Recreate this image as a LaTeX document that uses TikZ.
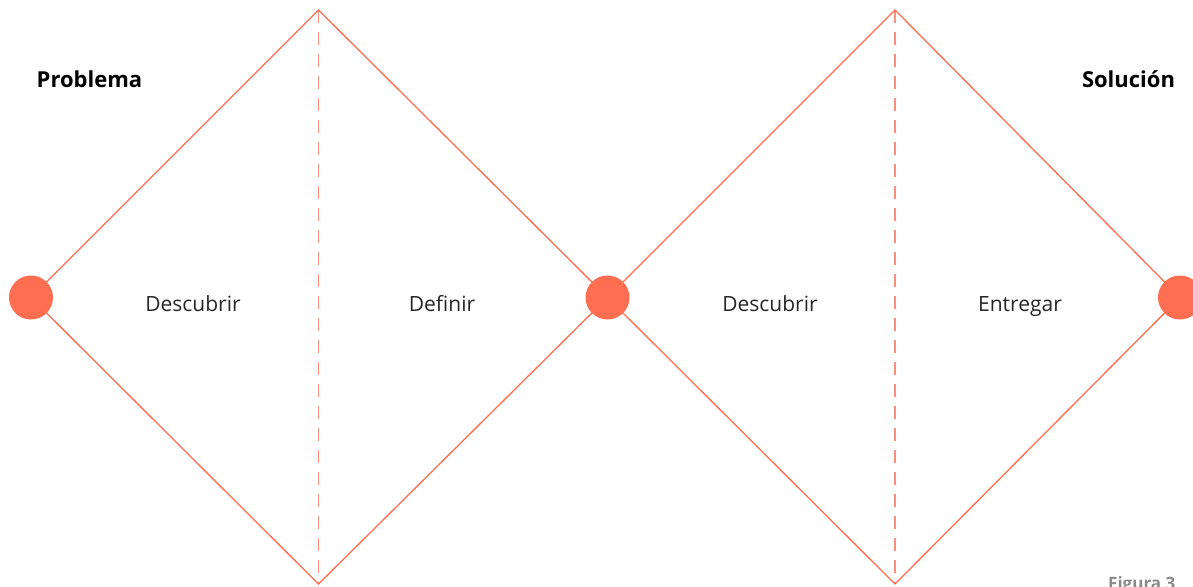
\documentclass[tikz,border=0pt]{standalone}
\usepackage{fontspec}
\setmainfont{Open Sans}
\definecolor{coral}{HTML}{FF6E50}
\definecolor{dashc}{HTML}{FA8F7D}
\definecolor{figgray}{HTML}{8A8A8A}
\begin{document}
\begin{tikzpicture}[x=1pt,y=-1pt,
  edge/.style={draw=coral,line width=1.3pt},
  mid/.style={draw=dashc,line width=1.5pt,dash pattern=on 13pt off 9pt},
  dot/.style={circle,fill=coral,minimum size=44pt,inner sep=0pt},
  lbl/.style={font=\fontsize{21}{25}\selectfont,text=black!85,anchor=base},
  ttl/.style={font=\fontsize{22}{26}\selectfont\bfseries,text=black,anchor=base}]
\path[use as bounding box] (0,0) rectangle (1193,586);
\coordinate (t1) at (318.5,10);
\coordinate (b1) at (318.5,584);
\coordinate (t2) at (895,10);
\coordinate (b2) at (895,584);
\coordinate (c1) at (31,297.5);
\coordinate (c2) at (607.5,297.5);
\coordinate (c3) at (1180,297.5);
\draw[mid] (t1) -- (b1);
\draw[mid] (t2) -- (b2);
\draw[edge] (c1) -- (t1) -- (c2) -- (b1) -- cycle;
\draw[edge] (c2) -- (t2) -- (c3) -- (b2) -- cycle;
\node[dot] (d1) at (c1) {};
\node[dot] (d2) at (c2) {};
\node[dot] (d3) at (c3) {};
\node[lbl] (l1) at (193,311) {Descubrir};
\node[lbl] (l2) at (442,311) {Definir};
\node[lbl] (l3) at (770,311) {Descubrir};
\node[lbl] (l4) at (1020,311) {Entregar};
\node[ttl] (p) at (89.5,88) {Problema};
\node[ttl] (s) at (1128.5,88) {Solución};
\node[font=\fontsize{17}{19}\selectfont\bfseries,text=figgray,anchor=north west,inner sep=0pt] (f) at (1108,576) {Figura 3};
\end{tikzpicture}
\end{document}
